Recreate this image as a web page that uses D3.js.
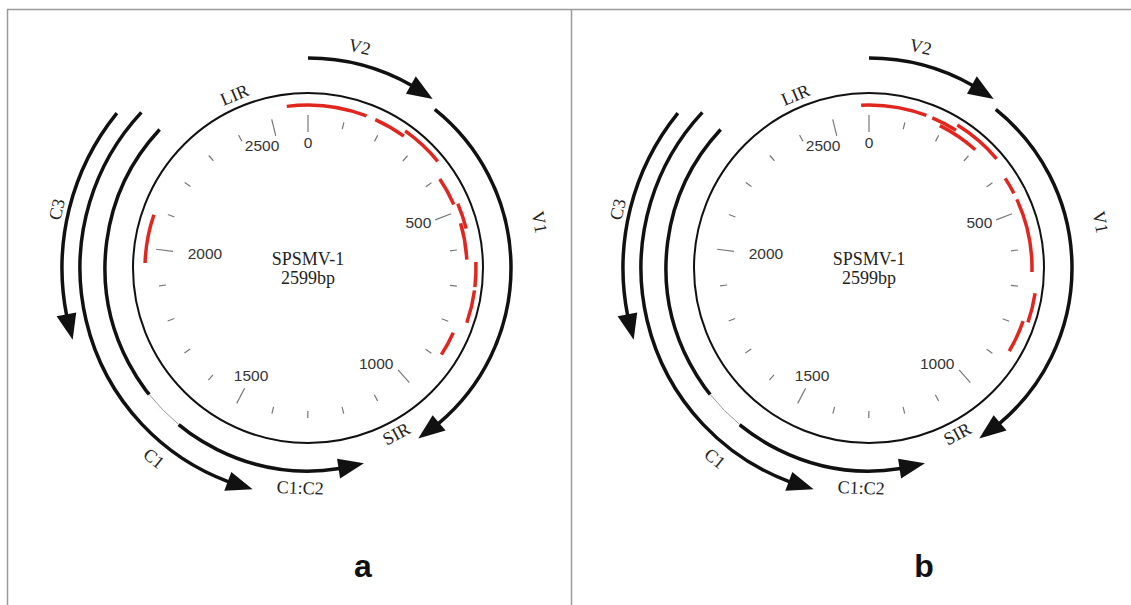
<!DOCTYPE html>
<html lang="en">
<head>
<meta charset="utf-8">
<title>SPSMV-1 genome maps</title>
<script src="https://d3js.org/d3.v7.min.js"></script>
<style>
  body{margin:0;background:#fff;}
  svg{display:block;}
</style>
</head>
<body>
<div id="chart"></div>
<script>
// genome + axis
var genomeLength = 2599
var tickValues = d3.range(0, 2600, 100)
var majorTicks = [0, 500, 1000, 1500, 2000, 2500]

// genes (bp); complementary genes run from high to low
var geneNames = ["V2", "V1", "C3", "C1", "C1:C2"]
var geneStart = [0, 279, 2231, 2260, 2260]
var geneEnd = [263, 1062, 1827, 1401, 1184]
var geneLabelPos = [95, 569, 2044, 1581, 1314]
var intronC1C2 = [1671, 1585]

var regionNames = ["LIR", "SIR"]
var regionLabelPos = [2433, 1097]

// red segments: [start, end, track]
var segmentsA = [[2545, 152, 1], [176, 260, 1], [255, 365, 2], [404, 480, 0], [482, 549, 1],
                 [532, 628, 0], [635, 697, 2], [705, 787, 2], [823, 888, 0], [1962, 2087, 1]]
var segmentsB = [[2579, 149, 1], [165, 233, 1], [191, 303, 0], [229, 357, 2], [409, 453, 1],
                 [470, 660, 1], [712, 786, 2], [787, 871, 1]]

var w = 1131, h = 605
var svg = d3.select("#chart").append("svg").attr("width", w).attr("height", h)

// panel frame
svg.append("path")
    .attr("d", "M7.5,605 V9.5 H1131 M571.5,9.5 V605")
    .attr("fill", "none").attr("stroke", "#9a9a9a").attr("stroke-width", 1.5)

var angle = d3.scaleLinear().domain([0, genomeLength]).range([0, 2 * Math.PI])
var rMain = 175
var trackR = [159, 163, 168]
var geneR = {"V2": 210, "V1": 203, "C3": 246, "C1": 228, "C1:C2": 203}
var labelR = {"V2": 227, "V1": 236, "C3": 258, "C1": 245, "C1:C2": 220, "LIR": 188, "SIR": 188}
// small nudges so the scale labels sit as in the original figure
var tickLabelNudge = {0: [0, -8], 500: [0, -4], 1000: [-10, 7], 1500: [-2, 3], 2000: [14, 0], 2500: [-18, -8]}

function pt(r, a){ return [r * Math.sin(a), -r * Math.cos(a)] }

function arcPath(r, a0, a1){
    var p = d3.path()
    var s = pt(r, a0)
    p.moveTo(s[0], s[1])
    p.arc(0, 0, r, a0 - Math.PI / 2, a1 - Math.PI / 2, a1 < a0)
    return p.toString()
}

function drawPanel(cx, cy, segs, letter){
    var g = svg.append("g").attr("transform", "translate(" + cx + "," + cy + ")")

    g.append("circle").attr("r", rMain).attr("fill", "none")
        .attr("stroke", "#111").attr("stroke-width", 2)

    // ticks
    function isMajor(d){ return majorTicks.indexOf(d) >= 0 }
    g.selectAll(".tick").data(tickValues).enter().append("line")
        .attr("x1", function(d){ return pt(isMajor(d) ? 153 : 150, angle(d))[0] })
        .attr("y1", function(d){ return pt(isMajor(d) ? 153 : 150, angle(d))[1] })
        .attr("x2", function(d){ return pt(isMajor(d) ? 136 : 143, angle(d))[0] })
        .attr("y2", function(d){ return pt(isMajor(d) ? 136 : 143, angle(d))[1] })
        .attr("stroke", "#777").attr("stroke-width", 1.2)

    g.selectAll(".tl").data(majorTicks).enter().append("text")
        .attr("x", function(d){ return pt(118, angle(d))[0] + tickLabelNudge[d][0] })
        .attr("y", function(d){ return pt(118, angle(d))[1] + tickLabelNudge[d][1] })
        .attr("text-anchor", "middle").attr("dominant-baseline", "central")
        .attr("font-family", "Liberation Sans, Arial, sans-serif").attr("font-size", 15.5)
        .attr("fill", "#333").text(function(d){ return d })

    // center
    g.append("text").attr("y", -3).attr("text-anchor", "middle")
        .attr("font-family", "Liberation Serif, Times New Roman, serif").attr("font-size", 18)
        .attr("fill", "#222").text("SPSMV-1")
    g.append("text").attr("y", 16).attr("text-anchor", "middle")
        .attr("font-family", "Liberation Serif, Times New Roman, serif").attr("font-size", 18)
        .attr("fill", "#222").text("2599bp")

    // red segments
    g.selectAll(".seg").data(segs).enter().append("path")
        .attr("d", function(d){
            var e = d[1] < d[0] ? d[1] + genomeLength : d[1]
            return arcPath(trackR[d[2]], angle(d[0]), angle(e))
        })
        .attr("fill", "none").attr("stroke", "#e0261f").attr("stroke-width", 3.5)

    // genes with arrowheads
    geneNames.forEach(function(name, i){
        var r = geneR[name]
        var a0 = angle(geneStart[i]), a1 = angle(geneEnd[i])
        var dir = a1 > a0 ? 1 : -1
        var aBase = a1 - dir * 26 / r
        g.append("path").attr("d", arcPath(r, a0, aBase + dir * 1 / r))
            .attr("fill", "none").attr("stroke", "#111").attr("stroke-width", 3.5)
        var tip = pt(r, a1), b1 = pt(r - 10, aBase), b2 = pt(r + 10, aBase)
        g.append("path").attr("d", "M" + tip + "L" + b1 + "L" + b2 + "Z").attr("fill", "#111")
        if(name == "C1:C2"){
            // thin part of the spliced ORF
            g.append("path").attr("d", arcPath(r, angle(intronC1C2[0]), angle(intronC1C2[1])))
                .attr("fill", "none").attr("stroke", "#fff").attr("stroke-width", 5)
            g.append("path").attr("d", arcPath(r, angle(intronC1C2[0]), angle(intronC1C2[1])))
                .attr("fill", "none").attr("stroke", "#999").attr("stroke-width", 1)
        }
    })

    // gene + region labels
    var labels = geneNames.map(function(n, i){ return {t: n, pos: geneLabelPos[i]} })
    regionNames.forEach(function(n, i){ labels.push({t: n, pos: regionLabelPos[i]}) })

    g.selectAll(".gl").data(labels).enter().append("text")
        .attr("transform", function(d){
            var a = angle(d.pos), p = pt(labelR[d.t], a)
            var deg = a * 180 / Math.PI
            if(deg > 90 && deg < 270) deg -= 180
            return "translate(" + p + ") rotate(" + deg + ")"
        })
        .attr("text-anchor", "middle").attr("dominant-baseline", "central")
        .attr("font-family", "Liberation Serif, Times New Roman, serif").attr("font-size", 18)
        .attr("fill", "#222").text(function(d){ return d.t })

    svg.append("text").attr("x", cx + 55).attr("y", 577).attr("text-anchor", "middle")
        .attr("font-family", "Liberation Sans, Arial, sans-serif").attr("font-weight", "bold")
        .attr("font-size", 32).attr("fill", "#111").text(letter)
}

drawPanel(308, 268, segmentsA, "a")
drawPanel(869, 268, segmentsB, "b")
</script>
</body>
</html>
